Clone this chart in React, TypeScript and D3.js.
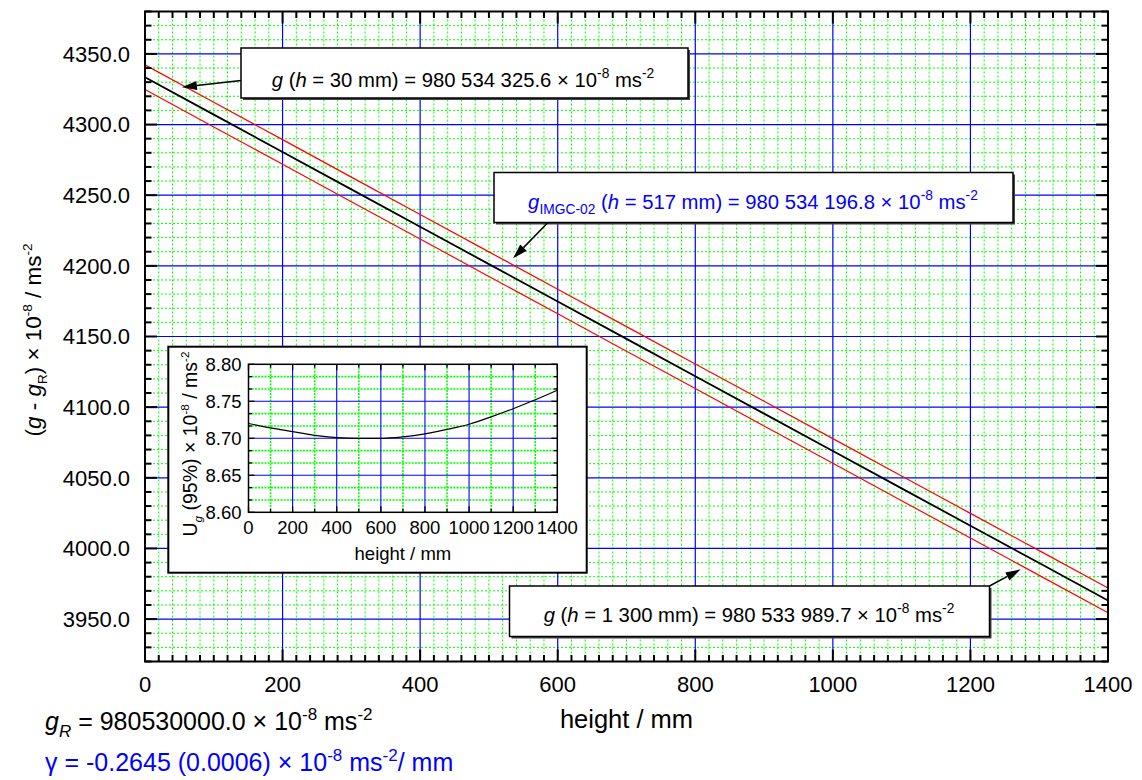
import { useEffect, useRef } from "react";
import * as d3 from "d3";

// main curve: (g - gR) in 1e-8 m/s^2 against height in mm
const heights = [0, 100, 200, 300, 400, 500, 600, 700, 800, 900, 1000, 1100, 1200, 1300, 1400];
const gValues = [
  4333.5, 4307.0, 4280.6, 4254.1, 4227.7, 4201.2, 4174.8, 4148.3, 4121.9, 4095.4, 4069.0, 4042.5,
  4016.1, 3989.7, 3963.2,
];
// expanded uncertainty U(95%) at the same heights (inset curve, also the red band)
const uValues = [
  8.72, 8.714, 8.709, 8.704, 8.701, 8.7, 8.7, 8.702, 8.706, 8.712, 8.719, 8.729, 8.74, 8.752, 8.765,
];

const xTicks = [0, 200, 400, 600, 800, 1000, 1200, 1400];
const yTicks = [3950, 4000, 4050, 4100, 4150, 4200, 4250, 4300, 4350];
const insetXTicks = [0, 200, 400, 600, 800, 1000, 1200, 1400];
const insetYTicks = [8.6, 8.65, 8.7, 8.75, 8.8];

type Seg = { t: string; it?: boolean; sub?: boolean; sup?: boolean };

const FONT = "'Liberation Sans', Arial, sans-serif";

function rich(
  parent: d3.Selection<any, unknown, null, undefined>,
  segs: Seg[],
  px: number,
  py: number,
  size: number,
  fill: string,
  anchor = "start",
  rotate = 0,
  small = 0.68,
) {
  const t = parent
    .append("text")
    .attr("x", px)
    .attr("y", py)
    .attr("font-family", FONT)
    .attr("font-size", size)
    .attr("fill", fill)
    .attr("text-anchor", anchor)
    .style("white-space", "pre");
  if (rotate) t.attr("transform", `rotate(${rotate},${px},${py})`);
  let cur = 0;
  segs.forEach((s) => {
    const target = s.sup ? -0.42 * size : s.sub ? 0.28 * size : 0;
    t.append("tspan")
      .attr("dy", target - cur)
      .attr("font-size", s.sup || s.sub ? size * small : size)
      .attr("font-style", s.it ? "italic" : "normal")
      .text(s.t);
    cur = target;
  });
  return t;
}

function arrow(
  g: d3.Selection<any, unknown, null, undefined>,
  x0: number,
  y0: number,
  x1: number,
  y1: number,
) {
  const a = Math.atan2(y1 - y0, x1 - x0);
  const len = 15;
  const hw = 4.5;
  const bx = x1 - len * Math.cos(a);
  const by = y1 - len * Math.sin(a);
  g.append("line")
    .attr("x1", x0)
    .attr("y1", y0)
    .attr("x2", bx)
    .attr("y2", by)
    .attr("stroke", "#000")
    .attr("stroke-width", 1.5);
  g.append("path")
    .attr(
      "d",
      `M${x1},${y1}L${bx + hw * Math.sin(a)},${by - hw * Math.cos(a)}L${bx - hw * Math.sin(a)},${by + hw * Math.cos(a)}Z`,
    )
    .attr("fill", "#000");
}

export default function App() {
  const svgRef = useRef<SVGSVGElement>(null);

  useEffect(() => {
    if (!svgRef.current) return;
    const svg = d3.select(svgRef.current);
    svg.selectAll("*").remove();

    const x = d3.scaleLinear().domain([0, 1400]).range([145, 1108]);
    const y = d3.scaleLinear().domain([3920, 4380]).range([661.5, 11.5]);
    const [L, R] = x.range();
    const [B, T] = y.range();

    const g = svg.append("g");

    // plot background
    g.append("rect").attr("x", L).attr("y", T).attr("width", R - L).attr("height", B - T).attr("fill", "#fff");

    // minor grid (green dotted)
    const xMinor = d3.range(20, 1400, 20).filter((v) => v % 200 !== 0);
    const yMinor = d3.range(3930, 4380, 10).filter((v) => v % 50 !== 0);
    g.selectAll(".gx")
      .data(xMinor)
      .enter()
      .append("line")
      .attr("x1", (d) => x(d))
      .attr("x2", (d) => x(d))
      .attr("y1", T)
      .attr("y2", B)
      .attr("stroke", "#00ff00")
      .attr("stroke-width", 1)
      .attr("stroke-dasharray", "2,2");
    g.selectAll(".gy")
      .data(yMinor)
      .enter()
      .append("line")
      .attr("x1", L)
      .attr("x2", R)
      .attr("y1", (d) => y(d))
      .attr("y2", (d) => y(d))
      .attr("stroke", "#00ff00")
      .attr("stroke-width", 1)
      .attr("stroke-dasharray", "2,2");

    // major grid (blue)
    g.selectAll(".bx")
      .data(xTicks.slice(1, -1))
      .enter()
      .append("line")
      .attr("x1", (d) => x(d))
      .attr("x2", (d) => x(d))
      .attr("y1", T)
      .attr("y2", B)
      .attr("stroke", "#0000ff")
      .attr("stroke-width", 1.2);
    g.selectAll(".by")
      .data(yTicks)
      .enter()
      .append("line")
      .attr("x1", L)
      .attr("x2", R)
      .attr("y1", (d) => y(d))
      .attr("y2", (d) => y(d))
      .attr("stroke", "#0000ff")
      .attr("stroke-width", 1.2);

    // curves
    const idx = d3.range(heights.length);
    const mk = (f: (i: number) => number) =>
      d3
        .line<number>()
        .x((i) => x(heights[i]))
        .y((i) => y(f(i)))(idx);
    g.append("path").attr("d", mk((i) => gValues[i] + uValues[i])).attr("fill", "none").attr("stroke", "#ff0000").attr("stroke-width", 1.2);
    g.append("path").attr("d", mk((i) => gValues[i] - uValues[i])).attr("fill", "none").attr("stroke", "#ff0000").attr("stroke-width", 1.2);
    g.append("path").attr("d", mk((i) => gValues[i])).attr("fill", "none").attr("stroke", "#000").attr("stroke-width", 1.8);

    // ticks (inward on all sides)
    const xAll = d3.range(0, 1401, 20);
    const yAll = d3.range(3920, 4381, 10);
    const tk = g.append("g").attr("stroke", "#000").attr("stroke-width", 2);
    xAll.forEach((v) => {
      const l = v % 200 === 0 ? 12 : 6.5;
      tk.append("line").attr("x1", x(v)).attr("x2", x(v)).attr("y1", B).attr("y2", B - l);
      tk.append("line").attr("x1", x(v)).attr("x2", x(v)).attr("y1", T).attr("y2", T + l);
    });
    yAll.forEach((v) => {
      const l = v % 50 === 0 ? 12 : 6.5;
      tk.append("line").attr("x1", L).attr("x2", L + l).attr("y1", y(v)).attr("y2", y(v));
      tk.append("line").attr("x1", R).attr("x2", R - l).attr("y1", y(v)).attr("y2", y(v));
    });
    g.append("rect")
      .attr("x", L)
      .attr("y", T)
      .attr("width", R - L)
      .attr("height", B - T)
      .attr("fill", "none")
      .attr("stroke", "#000")
      .attr("stroke-width", 2);

    // tick labels
    g.selectAll(".xl")
      .data(xTicks)
      .enter()
      .append("text")
      .attr("x", (d) => x(d))
      .attr("y", 692)
      .attr("text-anchor", "middle")
      .attr("font-family", FONT)
      .attr("font-size", 22)
      .text((d) => d);
    g.selectAll(".yl")
      .data(yTicks)
      .enter()
      .append("text")
      .attr("x", 130)
      .attr("y", (d) => y(d) + 7.8)
      .attr("text-anchor", "end")
      .attr("font-family", FONT)
      .attr("font-size", 22)
      .text((d) => d.toFixed(1));

    // axis titles
    rich(g, [{ t: "height / mm" }], (L + R) / 2, 728, 25.5, "#000", "middle");
    rich(
      g,
      [
        { t: "(" },
        { t: "g", it: true },
        { t: " - " },
        { t: "g", it: true },
        { t: "R", sub: true },
        { t: ") × 10" },
        { t: "-8", sup: true },
        { t: " / ms" },
        { t: "-2", sup: true },
      ],
      41,
      340,
      22.5,
      "#000",
      "middle",
      -90,
      0.6,
    );

    // footnotes
    rich(
      g,
      [
        { t: "g", it: true },
        { t: "R", sub: true, it: true },
        { t: " = 980530000.0 × 10" },
        { t: "-8", sup: true },
        { t: " ms" },
        { t: "-2", sup: true },
      ],
      45,
      730,
      25,
      "#000",
    );
    rich(
      g,
      [
        { t: "γ = -0.2645 (0.0006) × 10" },
        { t: "-8", sup: true },
        { t: " ms" },
        { t: "-2", sup: true },
        { t: "/ mm" },
      ],
      45,
      771,
      25,
      "#0000ff",
    );

    // annotation boxes
    const box = (bx: number, by: number, bw: number, bh: number) => {
      g.append("rect").attr("x", bx + 2).attr("y", by + 2).attr("width", bw).attr("height", bh).attr("fill", "#444");
      g.append("rect")
        .attr("x", bx)
        .attr("y", by)
        .attr("width", bw)
        .attr("height", bh)
        .attr("fill", "#fff")
        .attr("stroke", "#000")
        .attr("stroke-width", 1.5);
    };

    const boxFont = 20.3;

    box(241, 48, 447, 50);
    rich(
      g,
      [
        { t: "g", it: true },
        { t: " (" },
        { t: "h", it: true },
        { t: " = 30 mm) = 980 534 325.6 × 10" },
        { t: "-8", sup: true },
        { t: " ms" },
        { t: "-2", sup: true },
      ],
      463,
      87,
      boxFont,
      "#000",
      "middle",
    );
    arrow(g, 241, 80.5, x(53.7), y(4326.4));

    box(494, 172.5, 519, 50);
    rich(
      g,
      [
        { t: "g", it: true },
        { t: "IMGC-02", sub: true },
        { t: " (" },
        { t: "h", it: true },
        { t: " = 517 mm) = 980 534 196.8 × 10" },
        { t: "-8", sup: true },
        { t: " ms" },
        { t: "-2", sup: true },
      ],
      753,
      208.5,
      boxFont,
      "#0000ff",
      "middle",
    );
    arrow(g, 548, 222.5, x(535), y(4205.3));

    box(509.5, 586, 480, 50.5);
    rich(
      g,
      [
        { t: "g", it: true },
        { t: " (" },
        { t: "h", it: true },
        { t: " = 1 300 mm) = 980 533 989.7 × 10" },
        { t: "-8", sup: true },
        { t: " ms" },
        { t: "-2", sup: true },
      ],
      749,
      621.5,
      boxFont,
      "#000",
      "middle",
    );
    arrow(g, 989.5, 586, x(1273), y(3985.2));

    // inset
    const ix = d3.scaleLinear().domain([0, 1400]).range([248.5, 557.3]);
    const iy = d3.scaleLinear().domain([8.6, 8.8]).range([512.3, 364.3]);
    const [iL, iR] = ix.range();
    const [iB, iT] = iy.range();
    const ins = svg.append("g");
    ins.append("rect")
      .attr("x", 168.3)
      .attr("y", 346.7)
      .attr("width", 418.4)
      .attr("height", 226)
      .attr("fill", "#fff")
      .attr("stroke", "#000")
      .attr("stroke-width", 2);

    const ixMinor = d3.range(100, 1400, 200);
    const iyMinor = d3.range(1, 12).filter((i) => i % 3 !== 0).map((i) => 8.6 + (i * 0.05) / 3);
    ins.selectAll(".igx")
      .data(ixMinor)
      .enter()
      .append("line")
      .attr("x1", (d) => ix(d))
      .attr("x2", (d) => ix(d))
      .attr("y1", iT)
      .attr("y2", iB)
      .attr("stroke", "#00ff00")
      .attr("stroke-width", 1.6)
      .attr("stroke-dasharray", "2,1.2");
    ins.selectAll(".igy")
      .data(iyMinor)
      .enter()
      .append("line")
      .attr("x1", iL)
      .attr("x2", iR)
      .attr("y1", (d) => iy(d))
      .attr("y2", (d) => iy(d))
      .attr("stroke", "#00ff00")
      .attr("stroke-width", 1.6)
      .attr("stroke-dasharray", "2,1.2");
    ins.selectAll(".ibx")
      .data(insetXTicks.slice(1, -1))
      .enter()
      .append("line")
      .attr("x1", (d) => ix(d))
      .attr("x2", (d) => ix(d))
      .attr("y1", iT)
      .attr("y2", iB)
      .attr("stroke", "#0000ff")
      .attr("stroke-width", 1.1);
    ins.selectAll(".iby")
      .data(insetYTicks.slice(1, -1))
      .enter()
      .append("line")
      .attr("x1", iL)
      .attr("x2", iR)
      .attr("y1", (d) => iy(d))
      .attr("y2", (d) => iy(d))
      .attr("stroke", "#0000ff")
      .attr("stroke-width", 1.1);

    ins.append("path")
      .attr(
        "d",
        d3
          .line<number>()
          .x((i) => ix(heights[i]))
          .y((i) => iy(uValues[i]))
          .curve(d3.curveMonotoneX)(idx),
      )
      .attr("fill", "none")
      .attr("stroke", "#000")
      .attr("stroke-width", 1.2);

    const itk = ins.append("g").attr("stroke", "#000").attr("stroke-width", 1.3);
    d3.range(0, 1401, 100).forEach((v) => {
      const l = v % 200 === 0 ? 6 : 3.5;
      itk.append("line").attr("x1", ix(v)).attr("x2", ix(v)).attr("y1", iB).attr("y2", iB - l);
      itk.append("line").attr("x1", ix(v)).attr("x2", ix(v)).attr("y1", iT).attr("y2", iT + l);
    });
    [...insetYTicks, ...iyMinor].forEach((v) => {
      const l = insetYTicks.includes(v) ? 6 : 3.5;
      itk.append("line").attr("x1", iL).attr("x2", iL + l).attr("y1", iy(v)).attr("y2", iy(v));
      itk.append("line").attr("x1", iR).attr("x2", iR - l).attr("y1", iy(v)).attr("y2", iy(v));
    });
    ins.append("rect")
      .attr("x", iL)
      .attr("y", iT)
      .attr("width", iR - iL)
      .attr("height", iB - iT)
      .attr("fill", "none")
      .attr("stroke", "#000")
      .attr("stroke-width", 1.5);

    ins.selectAll(".ixl")
      .data(insetXTicks)
      .enter()
      .append("text")
      .attr("x", (d) => ix(d))
      .attr("y", 533.5)
      .attr("text-anchor", "middle")
      .attr("font-family", FONT)
      .attr("font-size", 18.5)
      .text((d) => d);
    ins.selectAll(".iyl")
      .data(insetYTicks)
      .enter()
      .append("text")
      .attr("x", 241.5)
      .attr("y", (d) => iy(d) + 6.6)
      .attr("text-anchor", "end")
      .attr("font-family", FONT)
      .attr("font-size", 18.5)
      .text((d) => d.toFixed(2));

    rich(ins, [{ t: "height / mm" }], (iL + iR) / 2, 560, 18.5, "#000", "middle");
    rich(
      ins,
      [
        { t: "U" },
        { t: "g", sub: true, it: true },
        { t: " (95%) × 10" },
        { t: "-8", sup: true },
        { t: " / ms" },
        { t: "-2", sup: true },
      ],
      197,
      444,
      19.5,
      "#000",
      "middle",
      -90,
      0.6,
    );
  }, []);

  return (
    <svg
      ref={svgRef}
      width={1142}
      height={780}
      style={{ position: "absolute", left: 0, top: 0, background: "#fff" }}
    />
  );
}
